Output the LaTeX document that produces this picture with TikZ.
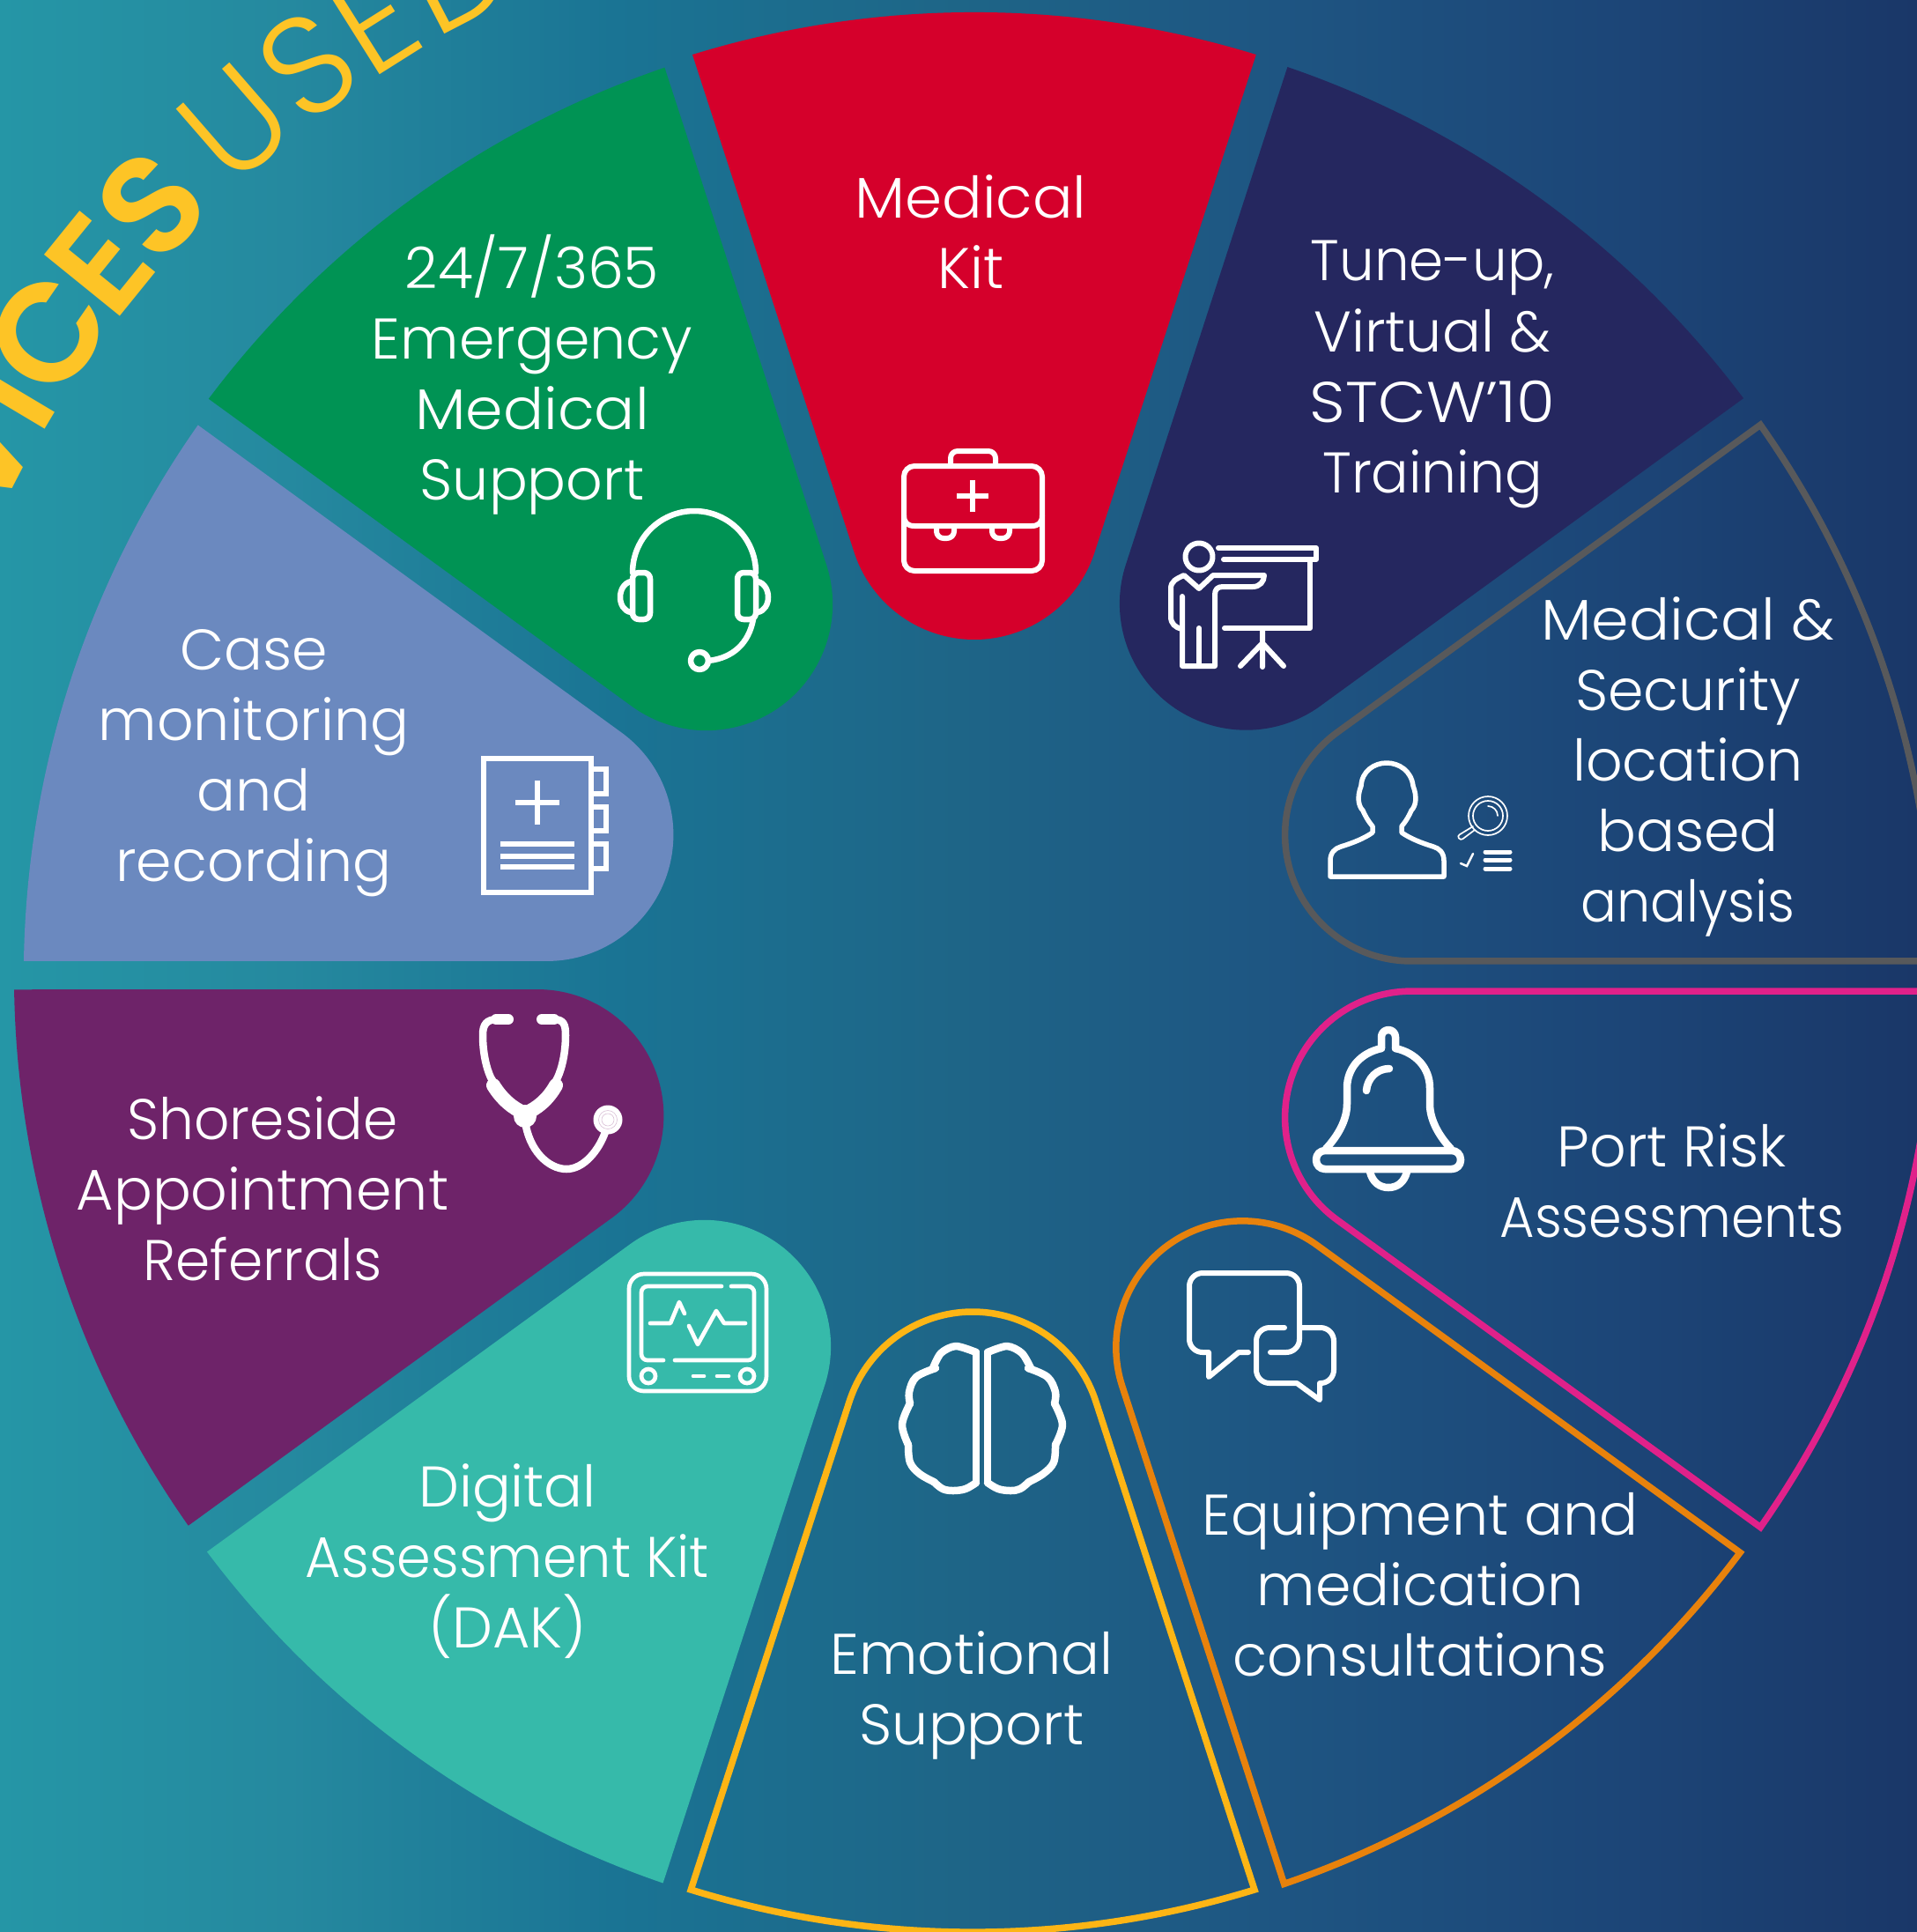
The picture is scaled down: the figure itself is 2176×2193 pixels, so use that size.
\documentclass[tikz,border=0pt]{standalone}
\usepackage{graphicx}
\usepackage{fontspec}
\setmainfont{Poppins Light}
\newfontfamily\boldtitle{Poppins SemiBold}
\newfontfamily\lighttitle{Poppins Light}
\definecolor{bgA}{HTML}{2596A6}
\definecolor{bgB}{HTML}{25899F}
\definecolor{bgC}{HTML}{1A7494}
\definecolor{bgD}{HTML}{1E6587}
\definecolor{bgE}{HTML}{1E5582}
\definecolor{bgF}{HTML}{1C4577}
\definecolor{bgG}{HTML}{1A3768}
\definecolor{kit}{HTML}{D5002B}
\definecolor{tune}{HTML}{25275F}
\definecolor{emerg}{HTML}{009354}
\definecolor{casec}{HTML}{6B89BF}
\definecolor{shore}{HTML}{6E2369}
\definecolor{dak}{HTML}{36BAAA}
\definecolor{grayo}{HTML}{58595B}
\definecolor{pinko}{HTML}{E0218A}
\definecolor{orano}{HTML}{E8820C}
\definecolor{yello}{HTML}{FDB515}
\definecolor{title}{HTML}{FDC426}
\definecolor{stethr}{HTML}{D9BFD6}
\pgfdeclarehorizontalshading{bgsh}{100bp}{color(0bp)=(bgA); color(25bp)=(bgA); color(32.5bp)=(bgB); color(41bp)=(bgC); color(50bp)=(bgD); color(58.35bp)=(bgE); color(67.5bp)=(bgF); color(75bp)=(bgG); color(100bp)=(bgG)}
\newcommand\wedgepath{(-320,-1040) arc[start angle=252.9,end angle=287.1,radius=1088] -- (136.5,-475.2) arc[start angle=18,end angle=162,radius=143.5] -- cycle}
\newcommand\wedgepathB{(-320,-1040) arc[start angle=252.9,end angle=287.1,radius=1088] -- (139.8,-485.6) arc[start angle=18,end angle=162,radius=147] -- cycle}
\newcommand\wfill[4]{\fill[#1,shift={(1104+#3,1102+#4)},rotate=#2] \wedgepath;}
\newcommand\wline[4]{\draw[#1,line width=0.075cm,shift={(1104+#3,1102+#4)},rotate=#2] \wedgepath;}
\newcommand\sx[2]{\scalebox{#1}[1]{#2}}
\tikzset{
  lbl/.style={text=white,align=center,inner sep=0pt,font=\fontsize{18.5}{22.76}\selectfont},
  ttlb/.style={text=title,inner sep=0pt,font=\boldtitle\fontsize{45}{50}\selectfont},
  ttll/.style={text=title,inner sep=0pt,font=\lighttitle\fontsize{45}{50}\selectfont},
  icon/.style={draw=white,line width=0.06cm,line cap=round,line join=round},
}
\newcommand\tb[3]{\node[ttlb,rotate=#1-90] (#3) at (-#1:1275) {#2};}
\newcommand\tl[3]{\node[ttll,rotate=#1-90] (#3) at (-#1:1275) {#2};}
\begin{document}
\begin{tikzpicture}[x=0.01cm,y=-0.01cm]
\useasboundingbox (0,0) rectangle (2176,2193);
\clip (0,0) rectangle (2176,2193);
\shade[shading=bgsh] (0,0) rectangle (2176,2193);
% title
\begin{scope}[shift={(1104,1102)}]
\tb{157.4}{R}{tR}\tb{152.7}{V}{tV}\tb{149.2}{I}{tI}\tb{145.4}{C}{tC}\tb{141}{E}{tE}\tb{137}{S}{tS}
\tl{131}{U}{tU}\tl{126.3}{S}{tS2}\tl{122.2}{E}{tE2}\tl{117.4}{D}{tD}
\end{scope}
% wedges
\wfill{kit}{0}{2}{0}
\wfill{tune}{-36}{5}{3.5}
\wfill{emerg}{36}{3}{4}
\wfill{casec}{72}{11}{6}
\wfill{shore}{108}{0}{4}
\wfill{dak}{144}{1}{6}
\wline{grayo}{-72}{4}{6}
\wline{pinko}{-108}{4}{6}
\wline{orano}{-144}{1}{7}
\draw[yello,line width=0.075cm,shift={(1104,1105)},rotate=180] \wedgepathB;
% labels
\node[lbl] (lkit) at (1102,263) {\sx{1.04}{Medical}\\Kit};
\node[lbl] (lemerg) at (604,425) {24/7/365\\Emergency\\\sx{1.05}{Medical}\\Support};
\node[lbl] (ltune) at (1626,425) {\sx{0.965}{Tune-up,}\\Virtual \&\\\sx{1.09}{STCW'10}\\\sx{0.97}{Training}};
\node[lbl] (lsec) at (1916,870) {\sx{1.05}{Medical \&}\\Security\\location\\based\\\sx{0.93}{analysis}};
\node[lbl] (lport) at (1898,1340) {Port Risk\\\sx{0.93}{Assessments}};
\node[lbl] (lequip) at (1612,1798) {Equipment and\\medication\\\sx{0.98}{consultations}};
\node[lbl] (lemo) at (1103,1924) {Emotional\\Support};
\node[lbl] (ldak) at (576,1772) {Digital\\\sx{0.955}{Assessment Kit}\\(DAK)};
\node[lbl] (lshore) at (298,1349) {\sx{0.97}{Shoreside}\\Appointment\\\sx{0.97}{Referrals}};
\node[lbl] (lcase) at (288,866) {Case\\monitoring\\and\\recording};
% briefcase
\draw[icon] (1026,541) arc[start angle=180,end angle=270,radius=12] -- (1171,529) arc[start angle=270,end angle=360,radius=12] -- (1183,636) arc[start angle=0,end angle=90,radius=12] -- (1038,648) arc[start angle=90,end angle=180,radius=12] -- cycle;
\draw[icon] (1026,585) .. controls (1026,593) and (1030,597) .. (1038,597) -- (1171,597) .. controls (1179,597) and (1183,593) .. (1183,585);
\draw[icon] (1079,526) -- (1079,520) arc[start angle=180,end angle=270,radius=8] -- (1122,512) arc[start angle=270,end angle=360,radius=8] -- (1130,526);
\draw[icon] (1063,597) -- (1063,603) arc[start angle=180,end angle=90,radius=8] -- (1075,611) arc[start angle=90,end angle=0,radius=8] -- (1083,597);
\draw[icon] (1126,597) -- (1126,603) arc[start angle=180,end angle=90,radius=8] -- (1138,611) arc[start angle=90,end angle=0,radius=8] -- (1146,597);
\draw[icon,line cap=butt] (1086,563) -- (1122,563) (1104,545) -- (1104,581);
% presenter
\draw[icon] (1361,632) circle[radius=15.5];
\draw[icon] (1383,622) -- (1494,622) -- (1494,635) -- (1389,635);
\draw[icon] (1487,635) -- (1487,713) -- (1390,713);
\draw[icon] (1433,713) -- (1433,757) (1433,730) -- (1408,756) (1433,730) -- (1457,756);
\draw[icon] (1341,714) .. controls (1334,712) and (1329,708) .. (1329,700) -- (1329,668) .. controls (1329,660) and (1335,657) .. (1344,653) -- (1361,668) -- (1377,653) -- (1435,653) .. controls (1435,660) and (1430,666) .. (1422,666) -- (1388,666) .. controls (1382,666) and (1379,669) .. (1379,675) -- (1379,756) -- (1342,756) -- (1342,677);
\draw[icon] (1361,756) -- (1361,713);
% person + magnifier
\draw[icon,line width=0.055cm] (1510,995) -- (1510,977) .. controls (1510,968) and (1515,963) .. (1522,961) .. controls (1535,957) and (1548,952) .. (1558,945) -- (1558,938) .. controls (1553,932) and (1549,925) .. (1547,920) .. controls (1542,915) and (1540,905) .. (1545,892) .. controls (1546,875) and (1560,866) .. (1574,866) .. controls (1588,866) and (1602,875) .. (1604,892) .. controls (1609,905) and (1607,915) .. (1602,920) .. controls (1600,925) and (1596,932) .. (1591,938) -- (1591,945) .. controls (1601,952) and (1614,957) .. (1627,961) .. controls (1634,963) and (1639,968) .. (1639,977) -- (1639,995) -- cycle;
\draw[white,line width=0.017cm] (1689,926) circle[radius=22] (1689,926) circle[radius=17];
\draw[white,line width=0.017cm,line cap=round] (1689,915) arc[start angle=270,end angle=360,radius=11];
\draw[white,line width=0.017cm,line cap=round,rounded corners=0.03cm] (1672,938) -- (1654,949) -- (1658,954) -- (1674,942);
\draw[white,line width=0.025cm,line cap=round] (1658,980) -- (1665,983) -- (1672,969);
\draw[white,line width=0.05cm,line cap=round] (1686,967) -- (1714,967) (1686,976) -- (1714,976) (1686,986) -- (1714,986);
% headset
\draw[icon,line width=0.065cm] (718,650) arc[start angle=180,end angle=360,radius=70];
\draw[icon,line width=0.065cm,rounded corners=0.07cm] (718,650) rectangle (738,703);
\draw[icon,line width=0.065cm,rounded corners=0.07cm] (837,650) rectangle (858,703);
\draw[icon,line width=0.065cm] (716,660) .. controls (700,664) and (700,692) .. (716,695);
\draw[icon,line width=0.065cm] (860,660) .. controls (876,664) and (876,692) .. (860,695);
\draw[icon,line width=0.065cm] (855,703) .. controls (850,730) and (832,747) .. (804,750);
\draw[icon,line width=0.065cm] (794,750) circle[radius=10];
% notebook
\draw[white,line width=0.065cm,miter limit=10] (549,861) rectangle (671,1013);
\draw[white,line width=0.065cm] (671,873) -- (688,873) -- (688,901) -- (671,901) (671,916) -- (688,916) -- (688,943) -- (671,943) (671,958) -- (688,958) -- (688,986) -- (671,986);
\draw[white,line width=0.065cm] (585,911) -- (635,911) (610,886) -- (610,936);
\draw[white,line width=0.065cm] (568,958) -- (652,958) (568,972) -- (652,972) (568,984) -- (652,984);
% stethoscope
\draw[white,line width=0.12cm,line cap=round] (563,1157) -- (577,1157) (615,1157) -- (629,1157);
\draw[white,line width=0.085cm] (565,1157) .. controls (552,1157) and (548,1163) .. (548,1175) .. controls (548,1195) and (552,1212) .. (557,1223) .. controls (570,1245) and (582,1258) .. (596,1266) .. controls (610,1258) and (622,1245) .. (633,1223) .. controls (638,1212) and (642,1195) .. (642,1175) .. controls (642,1163) and (640,1157) .. (628,1157);
\draw[white,line width=0.16cm,line cap=round] (560,1232) .. controls (570,1248) and (582,1258) .. (596,1264) .. controls (610,1258) and (622,1248) .. (631,1232);
\fill[white] (596,1267) circle[radius=13];
\draw[white,line width=0.085cm] (596,1272) .. controls (600,1305) and (622,1327) .. (643,1327) .. controls (663,1327) and (680,1305) .. (687,1285);
\fill[white] (690,1271) circle[radius=16.5];
\draw[stethr,line width=0.006cm] (690,1271) circle[radius=10.5] (690,1271) circle[radius=7];
% monitor
\draw[icon,line width=0.047cm,rounded corners=0.17cm] (714,1446) rectangle (870,1579);
\draw[icon,line width=0.047cm,rounded corners=0.07cm] (819,1460) -- (728,1460) -- (728,1544) -- (753,1544);
\draw[icon,line width=0.047cm,rounded corners=0.07cm] (766,1544) -- (856,1544) -- (856,1460) -- (830,1460);
\draw[icon,line width=0.047cm] (738,1502) -- (761,1502) -- (771,1478) -- (777,1491);
\draw[icon,line width=0.047cm] (782,1505) -- (792,1526) -- (813,1488) -- (822,1502) -- (846,1502);
\draw[icon,line width=0.047cm] (736,1562) circle[radius=8] (848,1562) circle[radius=8];
\draw[icon,line width=0.047cm] (787,1562) -- (799,1562) (814,1562) -- (827,1562);
% bell
\draw[icon,line width=0.085cm] (1568,1190) -- (1568,1177) arc[start angle=180,end angle=360,radius=8] -- (1584,1190);
\draw[icon,line width=0.085cm] (1568,1190) .. controls (1545,1195) and (1529,1212) .. (1529,1235) -- (1529,1253) .. controls (1529,1272) and (1518,1290) .. (1505,1304);
\draw[icon,line width=0.085cm] (1584,1190) .. controls (1607,1195) and (1623,1212) .. (1623,1235) -- (1623,1253) .. controls (1623,1272) and (1634,1290) .. (1647,1304);
\draw[icon,line width=0.085cm,rounded corners=0.1cm] (1494,1306) rectangle (1658,1327);
\draw[icon,line width=0.085cm] (1555,1330) .. controls (1558,1342) and (1566,1348) .. (1576,1348) .. controls (1586,1348) and (1594,1342) .. (1597,1330);
\draw[icon,line width=0.085cm] (1551,1238) .. controls (1552,1224) and (1563,1213) .. (1577,1213);
% brain
\draw[icon,line width=0.085cm] plot[smooth,tension=0.5] coordinates {(1108,1535) (1085,1528) (1068,1536) (1059,1553)};
\draw[icon,line width=0.085cm] (1108,1535) -- (1108,1683);
\draw[icon,line width=0.085cm] plot[smooth,tension=0.6] coordinates {(1062,1553) (1040,1563) (1032,1580) (1033,1593)};
\draw[icon,line width=0.085cm] plot[smooth,tension=0.6] coordinates {(1033,1593) (1024,1617) (1031,1640)};
\draw[icon,line width=0.085cm] plot[smooth,tension=0.6] coordinates {(1031,1640) (1033,1660) (1044,1673) (1060,1682)};
\draw[icon,line width=0.085cm] plot[smooth,tension=0.6] coordinates {(1060,1682) (1070,1690) (1082,1692) (1096,1690) (1108,1683)};
\draw[icon,line width=0.085cm] plot[smooth,tension=0.5] coordinates {(1121,1535) (1143,1528) (1160,1536) (1170,1553)};
\draw[icon,line width=0.085cm] (1121,1535) -- (1121,1683);
\draw[icon,line width=0.085cm] plot[smooth,tension=0.6] coordinates {(1167,1553) (1189,1563) (1198,1580) (1197,1593)};
\draw[icon,line width=0.085cm] plot[smooth,tension=0.6] coordinates {(1197,1593) (1206,1617) (1198,1640)};
\draw[icon,line width=0.085cm] plot[smooth,tension=0.6] coordinates {(1198,1640) (1196,1660) (1184,1673) (1168,1682)};
\draw[icon,line width=0.085cm] plot[smooth,tension=0.6] coordinates {(1168,1682) (1158,1690) (1147,1692) (1133,1690) (1121,1683)};
% chat
\draw[icon] (1417,1535) -- (1406,1535) -- (1372,1563) -- (1372,1535) -- (1365,1535) arc[start angle=90,end angle=180,radius=15] -- (1350,1460) arc[start angle=180,end angle=270,radius=15] -- (1460,1445) arc[start angle=270,end angle=360,radius=15] -- (1475,1520) arc[start angle=0,end angle=90,radius=15] -- (1442,1535);
\draw[icon] (1458,1507) -- (1441,1507) arc[start angle=270,end angle=180,radius=15] -- (1426,1555) arc[start angle=180,end angle=90,radius=15] -- (1472,1570) -- (1498,1589) -- (1498,1570) -- (1499,1570) arc[start angle=90,end angle=0,radius=15] -- (1514,1522) arc[start angle=360,end angle=270,radius=15] -- (1477,1507);
\end{tikzpicture}
\end{document}
